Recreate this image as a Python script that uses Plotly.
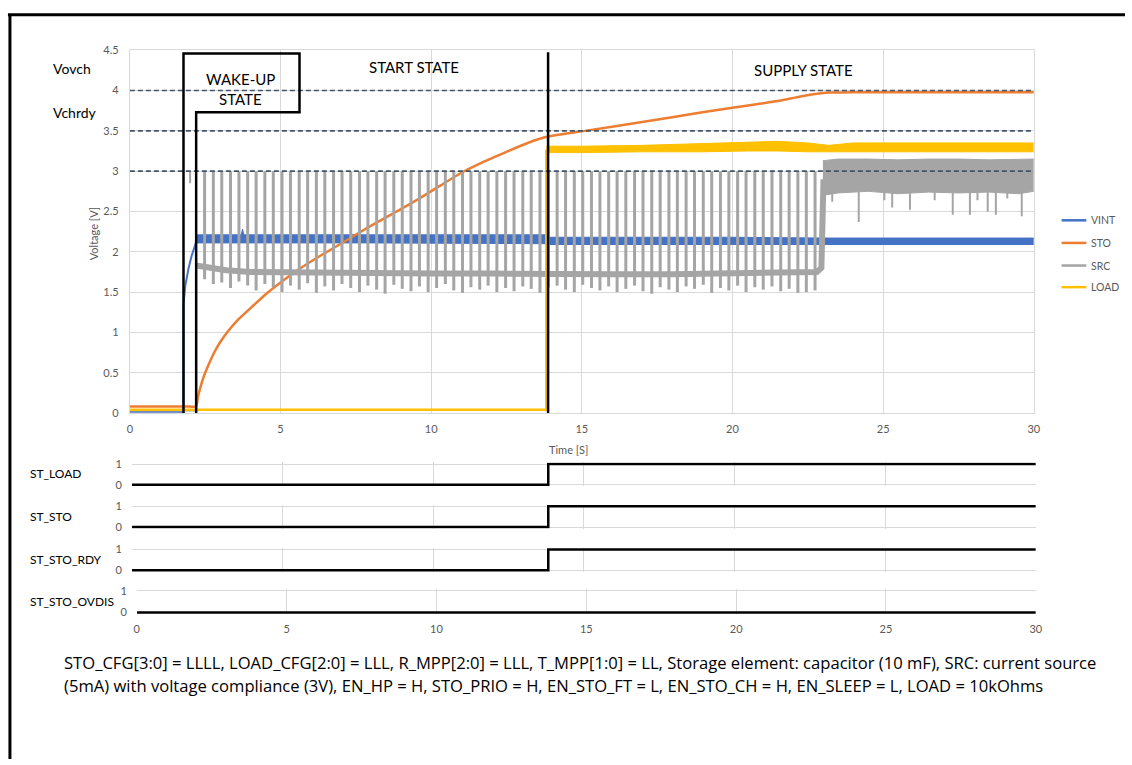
import plotly.graph_objects as go

W, H = 1132, 765

# ---------------- data ----------------
C_VINT, C_STO, C_SRC, C_LOAD = "#4472C4", "#ED7D31", "#A5A5A5", "#FFC000"
SERIES_NAMES = ["VINT", "STO", "SRC", "LOAD"]

VINT_T = [0, 1.78, 1.78, 1.84, 1.95, 2.05, 2.2]
VINT_V = [0.015, 0.015, 1.35, 1.58, 1.80, 1.95, 2.12]
VINT_BAND_T = [2.2, 3.70, 3.74, 3.78, 8.0, 13.85, 13.90, 20.0, 23.0, 30.0]
VINT_BAND_HI = [2.21, 2.21, 2.28, 2.21, 2.21, 2.21, 2.18, 2.18, 2.17, 2.17]
VINT_BAND_LO = [2.11, 2.11, 2.11, 2.11, 2.11, 2.10, 2.09, 2.09, 2.09, 2.09]

STO_T = [0, 1.0, 2.0, 2.2, 2.26, 2.35, 2.45, 2.59, 2.8, 3.0, 3.25, 3.6, 4.12, 4.5, 5.0, 5.6,
         6.32, 7.0, 7.85, 8.95, 9.6, 10.3, 11.0, 11.7, 12.5, 13.2, 13.88, 15.1, 17.0,
         19.0, 20.8, 21.5, 22.3, 22.8, 23.2, 24.0, 30.0]
STO_V = [0.08, 0.08, 0.08, 0.08, 0.20, 0.33, 0.45, 0.58, 0.75, 0.88, 1.01, 1.16, 1.34, 1.47, 1.62, 1.78,
         1.95, 2.10, 2.29, 2.52, 2.66, 2.82, 2.98, 3.11, 3.24, 3.35, 3.43, 3.50, 3.61,
         3.73, 3.83, 3.87, 3.93, 3.96, 3.975, 3.98, 3.98]

SRC_WAKE_T = [0, 2.2, 2.2]
SRC_WAKE_V = [0.03, 0.03, 1.83]
SRC_WAKE_TICK = dict(t=2.0, v0=3.0, v1=2.85)
SRC_BASE_T = [2.2, 2.6, 3.2, 4.0, 6.0, 8.0, 10.0, 12.0, 14.0, 16.0, 18.0, 20.0,
              22.0, 22.8, 22.95, 23.02]
SRC_BASE_V = [1.83, 1.80, 1.77, 1.75, 1.74, 1.74, 1.73, 1.73, 1.72, 1.72, 1.72, 1.73,
              1.73, 1.75, 1.80, 2.90]
SPIKE_T = [2.48, 2.77, 3.05, 3.34, 3.62, 3.91, 4.19, 4.48, 4.76, 5.05, 5.33, 5.62,
           5.90, 6.19, 6.47, 6.76, 7.04, 7.33, 7.62, 7.90, 8.19, 8.47, 8.76, 9.04,
           9.33, 9.61, 9.90, 10.18, 10.47, 10.75, 11.04, 11.32, 11.61, 11.89, 12.18, 12.47,
           12.75, 13.04, 13.32, 13.61, 13.89, 14.18, 14.46, 14.75, 15.03, 15.32, 15.60, 15.89,
           16.17, 16.46, 16.75, 17.03, 17.32, 17.60, 17.89, 18.17, 18.46, 18.74, 19.03, 19.31,
           19.60, 19.88, 20.17, 20.45, 20.74, 21.02, 21.31, 21.60, 21.88, 22.17, 22.45, 22.74]
SPIKE_BOT = [1.66, 1.60, 1.62, 1.55, 1.63, 1.58, 1.52, 1.60, 1.56, 1.50, 1.58, 1.53,
             1.61, 1.49, 1.57, 1.52, 1.60, 1.55, 1.50, 1.58, 1.53, 1.48, 1.59, 1.54,
             1.51, 1.57, 1.50, 1.55, 1.60, 1.52, 1.49, 1.56, 1.53, 1.58, 1.50, 1.55,
             1.51, 1.57, 1.54, 1.49, 1.56, 1.58, 1.53, 1.50, 1.59, 1.55, 1.52, 1.57,
             1.50, 1.54, 1.58, 1.51, 1.48, 1.56, 1.53, 1.50, 1.57, 1.54, 1.59, 1.49,
             1.55, 1.52, 1.58, 1.50, 1.56, 1.53, 1.57, 1.51, 1.54, 1.49, 1.50, 1.52]
SPIKE_TOP = 3.0
SRC_BAND_T = [23.0, 23.5, 24.5, 25.5, 26.5, 27.5, 28.5, 29.5, 30.0]
SRC_BAND_HI = [3.13, 3.15, 3.15, 3.14, 3.15, 3.15, 3.14, 3.15, 3.15]
SRC_BAND_LO = [2.70, 2.73, 2.75, 2.72, 2.74, 2.73, 2.74, 2.72, 2.75]
SRC_DIP_T = [23.31, 24.19, 25.04, 25.30, 25.89, 26.71, 27.31, 27.88, 28.13, 28.47, 28.74, 29.12, 29.60]
SRC_DIP_V = [2.62, 2.37, 2.64, 2.55, 2.52, 2.64, 2.46, 2.46, 2.64, 2.50, 2.46, 2.66, 2.44]

LOAD_T = [0, 13.82, 13.82]
LOAD_V = [0.04, 0.04, 3.27]
LOAD_BAND_T = [13.82, 15.0, 17.0, 19.0, 20.5, 21.5, 22.5, 23.2, 24.0, 26.0, 28.0, 30.0]
LOAD_BAND_HI = [3.31, 3.31, 3.32, 3.34, 3.36, 3.37, 3.35, 3.32, 3.35, 3.35, 3.35, 3.35]
LOAD_BAND_LO = [3.23, 3.23, 3.24, 3.24, 3.25, 3.25, 3.24, 3.24, 3.24, 3.24, 3.24, 3.24]

THRESH_V = [4.0, 3.5, 3.0]
WAKE_T = [1.78, 2.2]          # wake-up state boundaries
START_END_T = 13.88           # start -> supply boundary
WAKE_BOX = dict(right=5.63, top=4.46, bottom=3.73)

DIG_T = [0, 13.82, 30]
DIG_NAMES = ["ST_LOAD", "ST_STO", "ST_STO_RDY", "ST_STO_OVDIS"]
DIG_VALUES = [[0, 1, 1], [0, 1, 1], [0, 1, 1], [0, 0, 0]]

X_TICKS = [0, 5, 10, 15, 20, 25, 30]

NOTE_LINES = [
    "STO_CFG[3:0] = LLLL, LOAD_CFG[2:0] = LLL, R_MPP[2:0] = LLL, T_MPP[1:0] = LL, Storage element: capacitor (10 mF), SRC: current source",
    "(5mA) with voltage compliance (3V), EN_HP = H, STO_PRIO = H, EN_STO_FT = L, EN_STO_CH = H, EN_SLEEP = L, LOAD = 10kOhms",
]

# ---------------- helpers ----------------
FONT = "Lato"
GRID = "#D9D9D9"
TICKC = "#595959"


def px(x):
    return x / W


def py(y):
    return 1 - y / H


fig = go.Figure()


def add(tr):
    fig.add_trace(tr)


def segs(ts, a, b):
    xs, ys = [], []
    for t, v0, v1 in zip(ts, a, b):
        xs += [t, t, None]
        ys += [v0, v1, None]
    return xs, ys


# VINT
add(go.Scatter(x=VINT_T, y=VINT_V, mode="lines", line=dict(color=C_VINT, width=2),
               showlegend=False, hoverinfo="skip"))
add(go.Scatter(x=VINT_BAND_T, y=VINT_BAND_HI, mode="lines", line=dict(color=C_VINT, width=1),
               showlegend=False, hoverinfo="skip"))
add(go.Scatter(x=VINT_BAND_T, y=VINT_BAND_LO, mode="lines", line=dict(color=C_VINT, width=1),
               fill="tonexty", fillcolor=C_VINT, showlegend=False, hoverinfo="skip"))
# STO
add(go.Scatter(x=STO_T, y=STO_V, mode="lines", line=dict(color=C_STO, width=2.5, shape="spline",
               smoothing=0.5), showlegend=False, hoverinfo="skip"))
# SRC
add(go.Scatter(x=SRC_WAKE_T, y=SRC_WAKE_V, mode="lines", line=dict(color=C_SRC, width=2),
               showlegend=False, hoverinfo="skip"))
tx, ty = segs([SRC_WAKE_TICK["t"]], [SRC_WAKE_TICK["v0"]], [SRC_WAKE_TICK["v1"]])
add(go.Scatter(x=tx, y=ty, mode="lines", line=dict(color=C_SRC, width=2),
               showlegend=False, hoverinfo="skip"))
add(go.Scatter(x=SRC_BASE_T, y=SRC_BASE_V, mode="lines", line=dict(color=C_SRC, width=6),
               showlegend=False, hoverinfo="skip"))
sx, sy = segs(SPIKE_T, SPIKE_BOT, [SPIKE_TOP] * len(SPIKE_T))
add(go.Scatter(x=sx, y=sy, mode="lines", line=dict(color=C_SRC, width=3),
               showlegend=False, hoverinfo="skip"))
add(go.Scatter(x=SRC_BAND_T, y=SRC_BAND_HI, mode="lines", line=dict(color=C_SRC, width=1),
               showlegend=False, hoverinfo="skip"))
add(go.Scatter(x=SRC_BAND_T, y=SRC_BAND_LO, mode="lines", line=dict(color=C_SRC, width=1),
               fill="tonexty", fillcolor=C_SRC, showlegend=False, hoverinfo="skip"))
dx, dy = segs(SRC_DIP_T, [2.8] * len(SRC_DIP_T), SRC_DIP_V)
add(go.Scatter(x=dx, y=dy, mode="lines", line=dict(color=C_SRC, width=2),
               showlegend=False, hoverinfo="skip"))
# LOAD
add(go.Scatter(x=LOAD_T, y=LOAD_V, mode="lines", line=dict(color=C_LOAD, width=2.5),
               showlegend=False, hoverinfo="skip"))
add(go.Scatter(x=LOAD_BAND_T, y=LOAD_BAND_HI, mode="lines", line=dict(color=C_LOAD, width=1),
               showlegend=False, hoverinfo="skip"))
add(go.Scatter(x=LOAD_BAND_T, y=LOAD_BAND_LO, mode="lines", line=dict(color=C_LOAD, width=1),
               fill="tonexty", fillcolor=C_LOAD, showlegend=False, hoverinfo="skip"))

# digital signals
DIG_ROWS = [(465, 486), (508, 529), (552, 573), (594, 616)]
for i, (name, vals) in enumerate(zip(DIG_NAMES, DIG_VALUES)):
    k = i + 2
    add(go.Scatter(x=DIG_T, y=vals, mode="lines", line=dict(color="black", width=2.5, shape="hv"),
                   xaxis=f"x{k}", yaxis=f"y{k}", showlegend=False, hoverinfo="skip", name=name))

layout = dict(
    width=W, height=H, margin=dict(l=0, r=0, t=0, b=0),
    paper_bgcolor="white", plot_bgcolor="rgba(0,0,0,0)",
    font=dict(family=FONT, color="black"),
    showlegend=False,
)
layout["xaxis"] = dict(domain=[px(128), px(1040)], range=[0, 30], tickvals=X_TICKS,
                       showgrid=True, gridcolor=GRID, gridwidth=1, zeroline=False,
                       showline=True, mirror=True, linecolor=GRID, linewidth=1,
                       ticks="", ticklabelstandoff=6,
                       tickfont=dict(family=FONT, size=11, color=TICKC), anchor="y")
layout["yaxis"] = dict(domain=[py(413), py(44)], range=[0, 4.5], dtick=0.5, tick0=0,
                       showgrid=True, gridcolor=GRID, gridwidth=1, zeroline=False,
                       showline=True, mirror=True, linecolor=GRID, linewidth=1,
                       ticks="", ticklabelstandoff=8,
                       tickfont=dict(family=FONT, size=11, color=TICKC), anchor="x")
PAD = 0.08
for i, (top, bot) in enumerate(DIG_ROWS):
    k = i + 2
    left = 135 if i == 3 else 130
    unit = bot - top
    layout[f"xaxis{k}"] = dict(domain=[px(left), px(1042)], range=[0, 30], tickvals=X_TICKS,
                               showgrid=True, gridcolor=GRID, gridwidth=1, zeroline=False,
                               showline=False, ticks="", showticklabels=(i == 3),
                               ticklabelstandoff=7,
                               tickfont=dict(family=FONT, size=11, color=TICKC), anchor=f"y{k}")
    layout[f"yaxis{k}"] = dict(domain=[py(bot + PAD * unit), py(top - PAD * unit)],
                               range=[-PAD, 1 + PAD], tickvals=[0, 1],
                               showgrid=True, gridcolor=GRID, gridwidth=1, zeroline=False,
                               showline=False, ticks="", ticklabelstandoff=9,
                               tickfont=dict(family=FONT, size=11, color=TICKC), anchor=f"x{k}")

shapes = []
# threshold dashed lines
for v in THRESH_V:
    shapes.append(dict(type="line", xref="x", yref="y", x0=0, x1=30, y0=v, y1=v,
                       line=dict(color="#44546A", width=1.6, dash="5px,3px")))
# wake-up box and state boundaries
b = WAKE_BOX
path = (f"M {WAKE_T[0]} 0 L {WAKE_T[0]} {b['top']} L {b['right']} {b['top']} "
        f"L {b['right']} {b['bottom']} L {WAKE_T[1]} {b['bottom']} L {WAKE_T[1]} 0")
shapes.append(dict(type="path", xref="x", yref="y", path=path,
                   line=dict(color="black", width=2.5)))
shapes.append(dict(type="line", xref="x", yref="y", x0=START_END_T, x1=START_END_T,
                   y0=0, y1=4.475, line=dict(color="black", width=2.5)))
# outer frame
shapes.append(dict(type="line", xref="paper", yref="paper", x0=px(5), x1=px(1132),
                   y0=py(8), y1=py(8), line=dict(color="black", width=3)))
shapes.append(dict(type="line", xref="paper", yref="paper", x0=px(7), x1=px(7),
                   y0=py(8), y1=py(765), line=dict(color="black", width=3)))
# legend samples
LEG_COLORS = [C_VINT, C_STO, C_SRC, C_LOAD]
LEG_Y = [217, 240, 263, 285]
for c, yy in zip(LEG_COLORS, LEG_Y):
    shapes.append(dict(type="line", xref="paper", yref="paper", x0=px(1068), x1=px(1093),
                       y0=py(yy), y1=py(yy), line=dict(color=c, width=2.5)))

ann = []


def text(x, y, s, size, color="black", xanchor="center", textangle=0, family=FONT):
    ann.append(dict(xref="paper", yref="paper", x=px(x), y=py(y), text=s, showarrow=False,
                    xanchor=xanchor, yanchor="middle", textangle=textangle,
                    font=dict(family=family, size=size, color=color)))


text(70, 63, "Vovch", 14)
text(73, 107, "Vchrdy", 14)
text(240, 73, "WAKE-UP", 15)
text(240, 94, "STATE", 15)
text(415, 61, "START STATE", 15)
text(808, 64, "SUPPLY STATE", 15)
text(91, 230, "Voltage [V]", 11, TICKC, textangle=-90)
text(571, 450, "Time [S]", 11, TICKC)
for name, yy in zip(SERIES_NAMES, LEG_Y):
    text(1096, yy, name, 10.5, TICKC, xanchor="left")
for name, (top, bot) in zip(DIG_NAMES, DIG_ROWS):
    text(25, (top + bot) / 2 - 0.5, name, 12, xanchor="left")
for line, yy in zip(NOTE_LINES, [667, 690]):
    text(60, yy, line, 16.6, xanchor="left", family="Open Sans")

layout["shapes"] = shapes
layout["annotations"] = ann
fig.update_layout(**layout)
fig.write_html("out.html")
